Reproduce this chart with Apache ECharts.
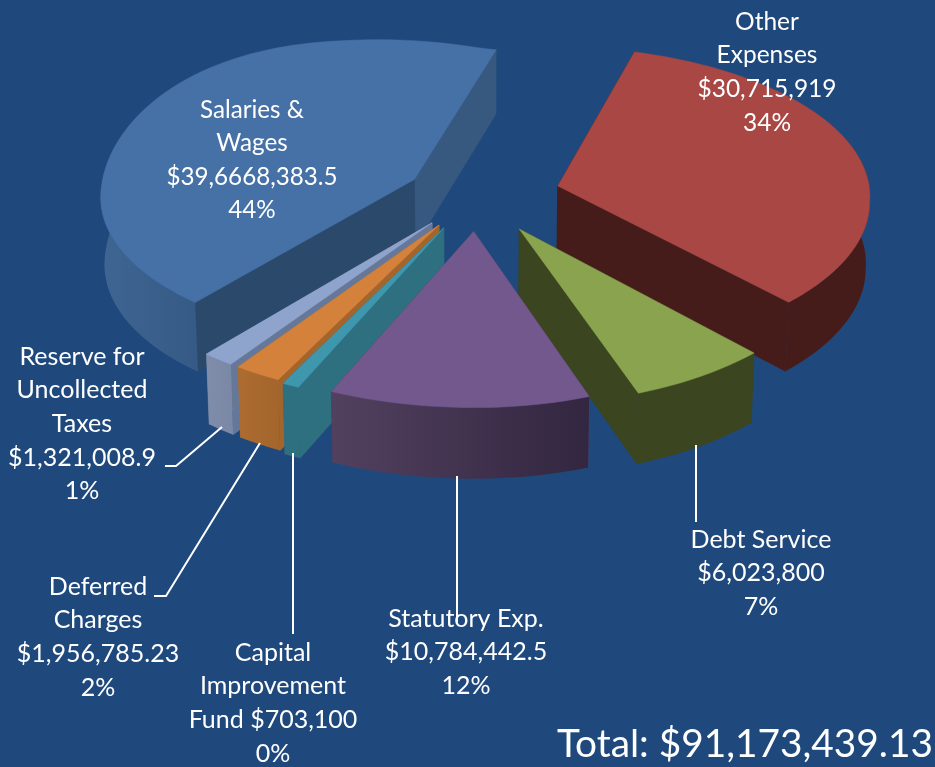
<!DOCTYPE html>
<html><head><meta charset="utf-8">
<style>html,body{margin:0;padding:0;background:#1f497d}#c{width:935px;height:767px}</style>
<script src="https://cdn.jsdelivr.net/npm/echarts@6/dist/echarts.min.js"></script>
</head><body><div id="c"></div>
<script>
// ---- data (clockwise order from the start angle) ----
const categories = ['Other Expenses','Debt Service','Statutory Exp.','Capital Improvement Fund','Deferred Charges','Reserve for Uncollected Taxes','Salaries & Wages'];
const values = [30715919, 6023800, 10784442.5, 703100, 1956785.23, 1321008.9, 39668383.5];
const labelLines = [
  ['Other','Expenses','$30,715,919','34%'],
  ['Debt Service','$6,023,800','7%'],
  ['Statutory Exp.','$10,784,442.5','12%'],
  ['Capital','Improvement','Fund $703,100','0%'],
  ['Deferred','Charges','$1,956,785.23','2%'],
  ['Reserve for','Uncollected','Taxes','$1,321,008.9','1%'],
  ['Salaries &','Wages','$39,6668,383.5','44%']
];
const totalLabel = 'Total: $91,173,439.13';

// ---- layout and style ----
const explode = [0.27, 0.26, 0.24, 0.24, 0.23, 0.23, 0.22];
const paintRank = [1, 3, 6, 5, 4, 2, 0];
const topColor   = ['#a94744','#8aa34e','#73588e','#3f97ae','#d3813b','#8fa4cd','#4671a6'];
const startWall  = ['#461c1b','#3b451f','#4e3a60','#2e6f80','#a3652c','#66789a','#2b4a6b']; // face on the start-angle edge
const endWall    = ['#461c1b','#3b451f','#4e3a60','#2e6f80','#a86a2f','#7a88a6','#37597f']; // face on the end-angle edge
const outerFrom  = ['#461c1b','#3b451f','#52405f','#2e6f80','#ad6c30','#7f8dab','#3f6593'];
const outerTo    = ['#461c1b','#3b451f','#322640','#2e6f80','#a3652c','#7a88a6','#355a85'];
const labelAnchor = [[767,5],[761,523],[466,602],[273,636],[98,570],[82,340],[252,93]];
const labelFontSize = [24.5, 25, 25, 25, 25, 25, 24.2];
const leaderLines = [
  [[696,445],[696,522]],
  [[457,476],[457,622]],
  [[293,453],[293,634]],
  [[260,443],[166,596],[154,596]],
  [[222,427],[176,466],[165,466]]
];
const START_DEG = 13.9, CX = 476, CY = 195, RX_LEFT = 318, RX_RIGHT = 313, RY = 148, PERSP = 0.11, SHEAR = 8,
      DEPTH = 67, CONVERGE = 0.99, BULGE = 23, TILT = 6, FAR_RIGHT = 20, NEAR_RIGHT = 11, FAR_LIFT = 7, LEFT_IN = 3.5;

const total = values.reduce((a, b) => a + b, 0);
function proj(wx, wy) {
  const s = 1 / (1 + PERSP * wy);
  const pos = Math.max(0, wx), neg = Math.max(0, -wx), far = Math.max(0, wy), near = Math.max(0, -wy);
  const rx = wx < 0 ? RX_LEFT : RX_RIGHT;
  const lift = FAR_LIFT * far * far * Math.min(1, Math.max(0, wx + 0.5));
  return {
    x: CX + (rx * wx + SHEAR * wy) * s + FAR_RIGHT * pos * far - NEAR_RIGHT * pos * near + LEFT_IN * neg * neg,
    y: CY - RY * wy * s - BULGE * neg * far + TILT * wx - lift,
    s
  };
}
function upperPt(wx, wy) { const p = proj(wx, wy); return [p.x, p.y]; }
function lowerPt(wx, wy) {
  const p = proj(wx, wy);
  return [CX + (p.x - CX) * CONVERGE, p.y + DEPTH * (1 + 0.4 * (p.s - 1))];
}
function renderItem(params, api) {
  const i = api.value(1);
  let before = 0;
  for (let k = 0; k < i; k++) before += values[k];
  const d2r = Math.PI / 180;
  const a0 = START_DEG + before / total * 360;
  const a1 = a0 + api.value(0) / total * 360;
  const midDeg = (a0 + a1) / 2, mid = midDeg * d2r;
  const ox = explode[i] * Math.sin(mid), oy = explode[i] * Math.cos(mid);
  const rim = [], steps = Math.max(4, Math.ceil((a1 - a0) / 2));
  for (let n = 0; n <= steps; n++) {
    const t = (a0 + (a1 - a0) * n / steps) * d2r;
    rim.push([ox + Math.sin(t), oy + Math.cos(t), Math.cos(t)]);
  }
  const first = rim[0], last = rim[rim.length - 1];
  const z = paintRank[i] * 10;
  const poly = (points, fill, zz) => ({
    type: 'polygon', z2: z + zz, silent: true,
    shape: { points }, style: { fill, stroke: typeof fill === 'string' ? fill : 'transparent', lineWidth: 0.5 }
  });
  const wallFace = (r) => [upperPt(ox, oy), upperPt(r[0], r[1]), lowerPt(r[0], r[1]), lowerPt(ox, oy)];
  const seen = rim.filter(r => r[2] < 0.4);
  // On the left half the start-angle face is the one turned to the viewer.
  const startOnTop = midDeg > 180;
  const children = [
    poly(wallFace(first), startWall[i], startOnTop ? 1 : 0),
    poly(wallFace(last), endWall[i], startOnTop ? 0 : 1)
  ];
  if (seen.length > 1) {
    const pts = seen.map(r => upperPt(r[0], r[1])).concat(seen.slice().reverse().map(r => lowerPt(r[0], r[1])));
    children.push(poly(pts, new echarts.graphic.LinearGradient(0, 0, 1, 0, [
      { offset: 0, color: outerFrom[i] }, { offset: 1, color: outerTo[i] }
    ]), 2));
  }
  children.push(poly([upperPt(ox, oy)].concat(rim.map(r => upperPt(r[0], r[1]))), topColor[i], 3));
  return { type: 'group', children };
}

const textEls = categories.map((c, i) => ({
  type: 'text', x: labelAnchor[i][0], y: labelAnchor[i][1], z: 20, silent: true,
  style: { text: labelLines[i].join('\n'), fill: '#fff', font: labelFontSize[i] + 'px Lato', align: 'center', verticalAlign: 'top', lineHeight: 33.6 }
}));
const lineEls = leaderLines.map(points => ({
  type: 'polyline', z: 21, silent: true, shape: { points },
  style: { stroke: '#fff', lineWidth: 2, fill: null }
}));
const totalEl = {
  type: 'text', x: 933, y: 725, z: 20, silent: true,
  style: { text: totalLabel, fill: '#fff', font: '38.8px Lato', align: 'right', verticalAlign: 'top' }
};

const chart = echarts.init(document.getElementById('c'), null, { renderer: 'canvas' });
chart.setOption({
  animation: false,
  backgroundColor: '#1f497d',
  tooltip: { show: false },
  graphic: { elements: textEls.concat(lineEls, [totalEl]) },
  series: [{
    type: 'custom', coordinateSystem: 'none', renderItem, silent: true,
    data: categories.map((c, i) => ({ name: c, value: [values[i], i] }))
  }]
});
</script></body></html>
